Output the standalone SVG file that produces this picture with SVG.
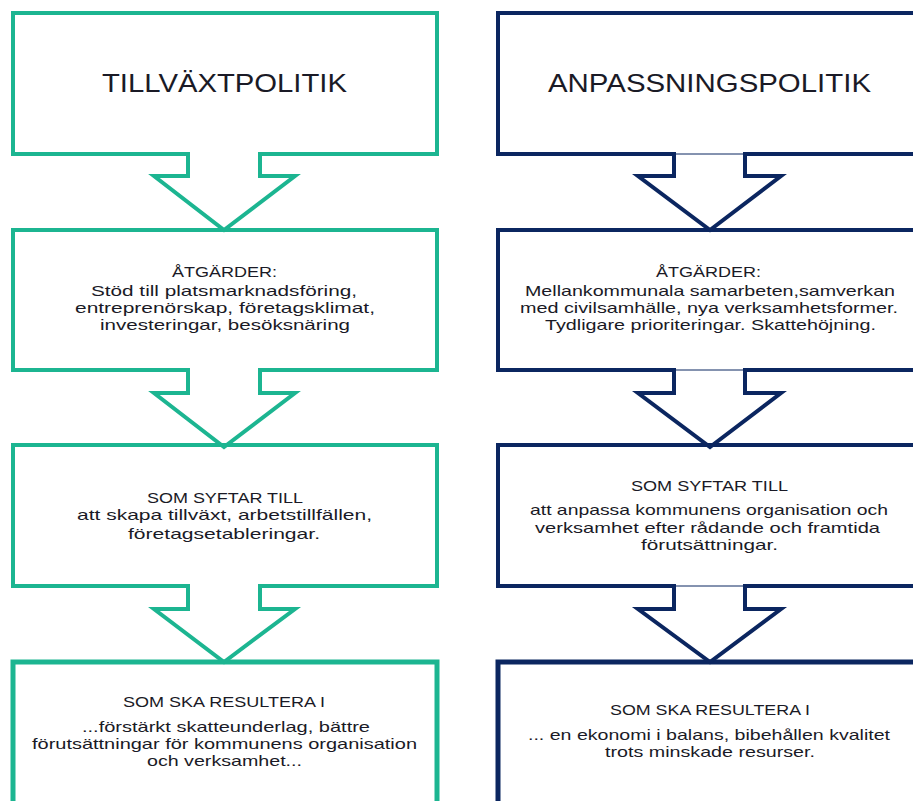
<svg xmlns="http://www.w3.org/2000/svg" width="913" height="801" viewBox="0 0 913 801">
<style>
.g{fill:#fff;stroke:#1cb591;stroke-width:4;stroke-linejoin:miter}
.n{fill:#fff;stroke:#0b2660;stroke-width:4;stroke-linejoin:miter}
.ga{fill:none;stroke:#1cb591;stroke-width:4;stroke-linejoin:miter}
.na{fill:none;stroke:#0b2660;stroke-width:4;stroke-linejoin:miter}
.cov{fill:#fff;stroke:none}
.thin{stroke:#0b2660;stroke-width:1}
text{font-family:"Liberation Sans",Arial,sans-serif;fill:#1a1a26;text-anchor:middle}
.t{font-size:25px}
.b{font-size:15px}
</style>
<rect width="913" height="801" fill="#fff"/>
<g id="l1"><rect class="g" x="13" y="13" width="424" height="141"/><text class="t" x="224.5" y="92" textLength="245" lengthAdjust="spacingAndGlyphs">TILLVÄXTPOLITIK</text></g>
<g id="l2"><rect class="g" x="13" y="230" width="424" height="140"/>
<text class="b" x="224.5" y="277" textLength="105" lengthAdjust="spacingAndGlyphs">ÅTGÄRDER:</text>
<text class="b" x="224" y="296" textLength="266" lengthAdjust="spacingAndGlyphs">Stöd till platsmarknadsföring,</text>
<text class="b" x="225" y="313" textLength="300" lengthAdjust="spacingAndGlyphs">entreprenörskap, företagsklimat,</text>
<text class="b" x="225" y="330" textLength="250" lengthAdjust="spacingAndGlyphs">investeringar, besöksnäring</text></g>
<g id="l3"><rect class="g" x="13" y="445" width="424" height="141"/>
<text class="b" x="225" y="503" textLength="156" lengthAdjust="spacingAndGlyphs">SOM SYFTAR TILL</text>
<text class="b" x="224.5" y="520" textLength="295" lengthAdjust="spacingAndGlyphs">att skapa tillväxt, arbetstillfällen,</text>
<text class="b" x="224" y="539" textLength="192" lengthAdjust="spacingAndGlyphs">företagsetableringar.</text></g>
<g id="l4"><rect class="g" x="13" y="662" width="424" height="180" style="stroke-width:5"/>
<text class="b" x="224" y="707" textLength="202" lengthAdjust="spacingAndGlyphs">SOM SKA RESULTERA I</text>
<text class="b" x="226" y="732" textLength="288" lengthAdjust="spacingAndGlyphs">...förstärkt skatteunderlag, bättre</text>
<text class="b" x="224.5" y="749" textLength="385" lengthAdjust="spacingAndGlyphs">förutsättningar för kommunens organisation</text>
<text class="b" x="224.5" y="766" textLength="155" lengthAdjust="spacingAndGlyphs">och verksamhet...</text></g>
<g id="r1"><rect class="n" x="498" y="13" width="440" height="141"/><text class="t" x="709.5" y="92" textLength="323" lengthAdjust="spacingAndGlyphs">ANPASSNINGSPOLITIK</text></g>
<g id="r2"><rect class="n" x="498" y="230" width="440" height="140"/>
<text class="b" x="708.5" y="277" textLength="105" lengthAdjust="spacingAndGlyphs">ÅTGÄRDER:</text>
<text class="b" x="710" y="296" textLength="370" lengthAdjust="spacingAndGlyphs">Mellankommunala samarbeten,samverkan</text>
<text class="b" x="709" y="313" textLength="378" lengthAdjust="spacingAndGlyphs">med civilsamhälle, nya  verksamhetsformer.</text>
<text class="b" x="710.5" y="330" textLength="331" lengthAdjust="spacingAndGlyphs">Tydligare prioriteringar. Skattehöjning.</text></g>
<g id="r3"><rect class="n" x="498" y="445" width="440" height="141"/>
<text class="b" x="709.5" y="491" textLength="157" lengthAdjust="spacingAndGlyphs">SOM SYFTAR TILL</text>
<text class="b" x="709" y="515" textLength="358" lengthAdjust="spacingAndGlyphs">att anpassa kommunens organisation och</text>
<text class="b" x="707.5" y="533" textLength="345" lengthAdjust="spacingAndGlyphs">verksamhet efter rådande och framtida</text>
<text class="b" x="709.5" y="550" textLength="137" lengthAdjust="spacingAndGlyphs">förutsättningar.</text></g>
<g id="r4"><rect class="n" x="498" y="662" width="440" height="180" style="stroke-width:5"/>
<text class="b" x="710" y="715" textLength="200" lengthAdjust="spacingAndGlyphs">SOM SKA RESULTERA I</text>
<text class="b" x="709" y="740" textLength="362" lengthAdjust="spacingAndGlyphs">... en ekonomi i balans, bibehållen kvalitet</text>
<text class="b" x="710" y="757" textLength="210" lengthAdjust="spacingAndGlyphs">trots minskade resurser.</text></g>
<g id="connectors">
<g id="c-l1"><rect class="cov" x="190" y="150" width="68" height="30"/><polyline class="ga" points="188,154 188,176 154,176 224,230 295,176 260,176 260,154"/></g>
<g id="c-l2"><rect class="cov" x="190" y="366" width="68" height="30"/><polyline class="ga" points="188,370 188,393 154,393 224,447 295,393 260,393 260,370"/></g>
<g id="c-l3"><rect class="cov" x="190" y="582" width="68" height="30"/><polyline class="ga" points="188,586 188,609 154,609 224,662 295,609 260,609 260,586"/></g>
<g id="c-r1"><rect class="cov" x="676" y="150" width="67" height="30"/><line class="thin" x1="675" y1="154" x2="744" y2="154"/><polyline class="na" points="674,154 674,176 638,176 710,230 781,176 745,176 745,154"/></g>
<g id="c-r2"><rect class="cov" x="676" y="366" width="67" height="30"/><line class="thin" x1="675" y1="370" x2="744" y2="370"/><polyline class="na" points="674,370 674,393 638,393 710,447 781,393 745,393 745,370"/></g>
<g id="c-r3"><rect class="cov" x="676" y="582" width="67" height="30"/><line class="thin" x1="675" y1="586" x2="744" y2="586"/><polyline class="na" points="674,586 674,609 638,609 710,662 781,609 745,609 745,586"/></g>
</g>
</svg>
